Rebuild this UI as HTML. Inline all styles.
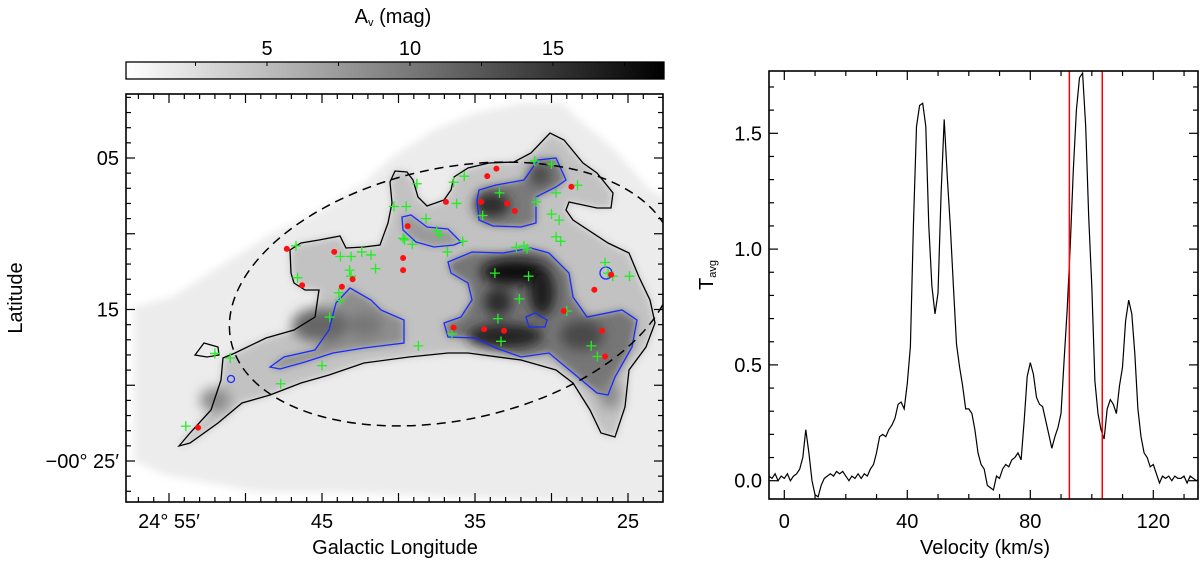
<!DOCTYPE html>
<html><head><meta charset="utf-8">
<style>
html,body{margin:0;padding:0;background:#fff;}
svg text{font-family:"Liberation Sans",Arial,sans-serif;fill:#000;}
</style></head>
<body>
<svg id="fig" width="1200" height="564" viewBox="0 0 1200 564" xmlns="http://www.w3.org/2000/svg">
<defs>
  <linearGradient id="cbgrad" x1="0" x2="1" y1="0" y2="0">
    <stop offset="0" stop-color="#ffffff"/><stop offset="1" stop-color="#000000"/>
  </linearGradient>
  <clipPath id="mapclip"><rect x="126" y="94" width="537" height="408"/></clipPath>
  <clipPath id="specclip"><rect x="769" y="71" width="429" height="428"/></clipPath>
  <filter id="b4" x="-20%" y="-20%" width="140%" height="140%"><feGaussianBlur stdDeviation="4"/></filter>
  <filter id="b7" x="-30%" y="-30%" width="160%" height="160%"><feGaussianBlur stdDeviation="6"/></filter>
</defs>

<g>
  <text x="393" y="23" font-size="20" text-anchor="middle">A<tspan font-size="11" dy="3">v</tspan><tspan dy="-3"> (mag)</tspan></text>
  <rect x="126" y="62" width="538" height="17" fill="url(#cbgrad)" stroke="#000" stroke-width="1.3"/>
  <g id="cbticks"></g>
</g>

<g>
  <g clip-path="url(#mapclip)">
    <polygon fill="#ececec" filter="url(#b4)" points="134,307 172,297 225,263 273,233 322,210 364,183 392,157 434,130 475,113 521,103 562,103 583,123 615,150 650,190 670,200 670,505 329,492 259,492 165,475 134,460"/>
    <path fill="#c2c2c2" filter="url(#b4)" d="M179,446 L190,433 211,410 221,380 223,358 235,353 266,338 294,330 315,317 319,290 305,290 294,283 291,273 290,250 301,243 319,240 340,236 346,248 364,247 380,245 388,223 392,203 390,182 395,171 407,172 413,180 418,197 427,206 444,200 451,190 454,177 468,168 489,163 514,162 531,153 550,133 564,140 583,163 597,173 613,193 611,208 597,208 569,202 566,210 573,220 608,243 629,253 639,277 650,300 655,323 646,347 629,370 625,407 615,437 601,433 590,410 573,383 556,370 521,360 468,353 448,353 409,357 364,363 329,375 301,383 270,395 242,403 218,423 190,443 Z"/>
    <path fill="#8e8e8e" filter="url(#b4)" d="M270,367 L284,357 315,350 329,330 336,303 350,288 371,300 381,310 404,320 404,343 364,348 333,353 305,362 280,369 Z"/>
    <path fill="#7a7a7a" filter="url(#b4)" d="M479,190 L496,185 524,180 538,160 556,158 566,180 556,187 536,197 536,223 521,227 493,226 479,220 477,200 Z"/>
    <path fill="#9a9a9a" filter="url(#b4)" d="M402,217 L411,215 427,227 448,229 461,242 454,245 434,247 416,242 403,230 Z"/>
    <path fill="#767676" filter="url(#b4)" d="M448,262 L472,252 503,253 531,248 549,253 569,273 573,297 587,317 622,310 637,320 632,347 615,377 608,395 597,393 573,373 549,353 521,357 496,348 475,338 448,337 444,323 461,317 472,300 468,283 451,273 Z"/>
    <g filter="url(#b7)">
      <ellipse cx="515" cy="272" rx="34" ry="13" fill="#080808"/>
      <ellipse cx="542" cy="292" rx="13" ry="24" fill="#1a1a1a"/>
      <ellipse cx="498" cy="302" rx="14" ry="14" fill="#2a2a2a"/>
      <ellipse cx="505" cy="336" rx="38" ry="12" fill="#222"/>
      <ellipse cx="492" cy="205" rx="18" ry="12" fill="#2a2a2a"/>
      <ellipse cx="540" cy="175" rx="11" ry="11" fill="#4a4a4a"/>
      <ellipse cx="582" cy="335" rx="22" ry="15" fill="#4a4a4a"/>
      <ellipse cx="320" cy="325" rx="28" ry="17" fill="#666"/>
      <ellipse cx="365" cy="325" rx="17" ry="13" fill="#777"/>
      <ellipse cx="215" cy="400" rx="15" ry="12" fill="#8a8a8a"/>
      <ellipse cx="610" cy="395" rx="10" ry="14" fill="#8a8a8a"/>
    </g>
    <path fill="none" stroke="#000" stroke-width="1.3" d="M179,446 L190,433 211,410 221,380 223,358 235,353 266,338 294,330 315,317 319,290 305,290 294,283 291,273 290,250 301,243 319,240 340,236 346,248 364,247 380,245 388,223 392,203 390,182 395,171 407,172 413,180 418,197 427,206 444,200 451,190 454,177 468,168 489,163 514,162 531,153 550,133 564,140 583,163 597,173 613,193 611,208 597,208 569,202 566,210 573,220 608,243 629,253 639,277 650,300 655,323 646,347 629,370 625,407 615,437 601,433 590,410 573,383 556,370 521,360 468,353 448,353 409,357 364,363 329,375 301,383 270,395 242,403 218,423 190,443 Z"/>
    <path fill="none" stroke="#000" stroke-width="1.3" d="M195,355 L204,343 218,347 219,355 207,357 Z"/>
    <g fill="none" stroke="#1a2bff" stroke-width="1.3">
      <path d="M270,367 L284,357 315,350 329,330 336,303 350,288 371,300 381,310 404,320 404,343 364,348 333,353 305,362 280,369 Z"/>
      <circle cx="231" cy="379" r="3.5"/>
      <path d="M402,217 L411,215 427,227 448,229 461,242 454,245 434,247 416,242 403,230 Z"/>
      <path d="M479,190 L496,185 524,180 538,160 556,158 566,180 556,187 536,197 536,223 521,227 493,226 479,220 477,200 Z"/>
      <path d="M448,262 L472,252 503,253 531,248 549,253 569,273 573,297 587,317 622,310 637,320 632,347 615,377 608,395 597,393 573,373 549,353 521,357 496,348 475,338 448,337 444,323 461,317 472,300 468,283 451,273 Z"/>
      <path d="M526,317 L535,313 547,320 545,327 529,327 Z"/>
      <circle cx="606" cy="273" r="6"/>
    </g>
    <ellipse cx="452" cy="294" rx="226" ry="126" transform="rotate(-12 452 294)" fill="none" stroke="#000" stroke-width="1.5" stroke-dasharray="9,6"/>
    <g id="crosses"></g>
    <g id="dots"></g>
  </g>
  <rect x="126" y="94" width="537" height="408" fill="none" stroke="#000" stroke-width="1.6"/>
  <g id="mapticks"></g>
  <text x="395" y="554" font-size="20" text-anchor="middle">Galactic Longitude</text>
  <text transform="translate(22,298) rotate(-90)" font-size="20" text-anchor="middle">Latitude</text>
</g>

<g>
  <g clip-path="url(#specclip)">
    <path id="specline" fill="none" stroke="#000" stroke-width="1.2"/>
    <g id="redlines"></g>
  </g>
  <rect x="769" y="71" width="429" height="428" fill="none" stroke="#000" stroke-width="1.6"/>
  <g id="specticks"></g>
  <text x="985" y="554" font-size="20" text-anchor="middle">Velocity (km/s)</text>
  <text transform="translate(713,275) rotate(-90)" font-size="20" text-anchor="middle">T<tspan font-size="11" dy="3">avg</tspan></text>
</g>
</svg>

<script>
const specStart = -5;
const specValues = [0.02,0.01,0.03,0.00,0.02,0.01,0.03,0.00,0.02,0.03,0.05,
0.10,0.22,0.12,0.00,-0.06,-0.07,-0.02,0.01,0.02,0.03,0.02,0.04,0.03,0.04,0.02,0.00,0.02,0.01,0.03,0.01,0.03,0.02,
0.05,0.07,0.12,0.19,0.20,0.19,0.22,0.24,0.27,0.33,0.34,0.31,0.42,0.58,1.10,1.53,1.62,1.63,1.53,1.10,0.84,0.72,
0.81,1.24,1.56,1.31,1.10,0.84,0.59,0.49,0.41,0.31,0.31,0.29,0.22,0.12,0.07,0.05,-0.02,-0.03,-0.04,0.02,0.01,
0.05,0.07,0.06,0.09,0.10,0.12,0.09,0.26,0.45,0.51,0.46,0.36,0.33,0.32,0.26,0.20,0.14,0.19,0.23,0.29,0.52,0.74,
1.02,1.34,1.60,1.74,1.76,1.53,1.14,0.84,0.43,0.29,0.22,0.18,0.31,0.35,0.33,0.29,0.41,0.49,0.69,0.78,0.72,0.55,
0.31,0.19,0.12,0.10,0.06,0.07,0.03,-0.01,
0.02,0.01,0.02,0.00,0.02,0.01,0.01,0.02,-0.01,0.02,0.01,0.00,0.01];
const velocityMarkers = [92.7, 103.4];
const specXTicks = [0, 40, 80, 120];
const specXTickLabels = ["0", "40", "80", "120"];
const specYTicks = [0, 0.5, 1.0, 1.5];
const specYTickLabels = ["0.0", "0.5", "1.0", "1.5"];

const crossLon = [31.1,30.0,35.7,36.4,38.8,28.3,33.4,29.7,36.2,31.0,40.3,39.5,34.5,30.0,29.5,38.2,37.5,37.3,39.7,39.6,39.1,29.7,29.4,35.8,46.7,36.8,32.3,31.8,31.6,43.8,43.1,42.4,41.8,41.5,43.2,43.1,46.6,33.7,31.5,26.5,26.3,24.9,26.0,43.9,43.8,32.1,44.5,33.5,36.5,33.3,38.7,27.4,27.0,45.0,51.0,52.0,47.7,53.9,29.0];
const crossLat = [5.2,5.4,6.2,6.6,6.7,6.8,7.3,7.3,8.0,7.9,8.2,8.2,8.8,8.7,9.1,9.0,9.8,10.1,10.3,10.4,10.7,10.2,10.5,10.5,10.8,11.2,10.9,10.8,11.0,11.5,11.5,11.2,11.4,12.3,12.4,12.8,12.9,12.6,12.8,11.9,12.6,12.8,12.8,13.9,14.4,14.3,15.5,15.6,16.6,17.1,17.4,17.4,18.1,18.7,18.2,17.9,19.9,22.7,15.1];
const dotLon = [47.3,44.2,46.3,43.0,43.7,39.4,39.7,39.7,36.9,34.2,33.6,34.6,32.9,32.4,28.7,26.1,27.2,29.2,36.4,34.4,33.1,26.7,26.5,53.1];
const dotLat = [11.0,11.2,13.4,13.0,13.5,9.5,11.6,12.4,7.9,6.2,5.7,7.9,8.0,8.5,6.9,12.7,13.7,15.1,16.2,16.3,16.4,16.4,18.1,22.8];
const lonTicks = [55, 45, 35, 25];
const lonTickLabels = ["24° 55′", "45", "35", "25"];
const latTicks = [5, 15, 25];
const latTickLabels = ["05", "15", "−00° 25′"];
const cbTicks = [5, 10, 15];
const cbTickLabels = ["5", "10", "15"];

const NS = "http://www.w3.org/2000/svg";
const sx = v => 784.3 + (v - 0) * 3.075;
const sy = t => 480.7 - t * 231.6;
const mx = l => 322 + (45 - l) * 15.3;
const my = b => 158 + (b - 5) * 15.15;
const cx = a => 267 + (a - 5) * 28.6;

function mk(tag, attrs, parent) {
  const e = document.createElementNS(NS, tag);
  for (const k in attrs) e.setAttribute(k, attrs[k]);
  parent.appendChild(e);
  return e;
}

let d = "";
specValues.forEach((t, i) => { d += (i ? "L" : "M") + sx(specStart + i).toFixed(1) + "," + sy(t).toFixed(1); });
document.getElementById("specline").setAttribute("d", d);

const rl = document.getElementById("redlines");
velocityMarkers.forEach(v => {
  const l = mk("line", {x1: sx(v), x2: sx(v), y1: 71, y2: 499, stroke: "#ff0000", "stroke-width": 1.5}, rl);
  
  
});

const st = document.getElementById("specticks");
for (let v = 0; v <= 130; v += 10) {
  const major = v % 40 === 0;
  const len = major ? 9 : 5;
  mk("line", {x1: sx(v), x2: sx(v), y1: 499, y2: 499 - len, stroke: "#000", "stroke-width": 1.2}, st);
  mk("line", {x1: sx(v), x2: sx(v), y1: 71, y2: 71 + len, stroke: "#000", "stroke-width": 1.2}, st);
}
for (let k = 0; k <= 17; k++) {
  const t = k / 10;
  const major = k % 5 === 0;
  const len = major ? 9 : 5;
  mk("line", {x1: 769, x2: 769 + len, y1: sy(t), y2: sy(t), stroke: "#000", "stroke-width": 1.2}, st);
  mk("line", {x1: 1198, x2: 1198 - len, y1: sy(t), y2: sy(t), stroke: "#000", "stroke-width": 1.2}, st);
}
specXTicks.forEach((v, i) => {
  const t = mk("text", {x: sx(v), y: 528, "font-size": 20, "text-anchor": "middle"}, st);
  t.textContent = specXTickLabels[i];
  
  
});
specYTicks.forEach((v, i) => {
  const t = mk("text", {x: 762, y: sy(v) + 7, "font-size": 20, "text-anchor": "end"}, st);
  t.textContent = specYTickLabels[i];
  
  
});

const cg = document.getElementById("crosses");
crossLon.forEach((l, i) => {
  const x = mx(l), y = my(crossLat[i]);
  const p = mk("path", {d: `M${x-5},${y}H${x+5}M${x},${y-5}V${y+5}`, stroke: "#22ee22", "stroke-width": 1.3, fill: "none"}, cg);
  
  
});
const dg = document.getElementById("dots");
dotLon.forEach((l, i) => {
  const c = mk("circle", {cx: mx(l), cy: my(dotLat[i]), r: 3, fill: "#ff1010"}, dg);
  
  
});

const mt = document.getElementById("mapticks");
for (let l = 24; l <= 59; l++) {
  const x = mx(l); if (x < 126 || x > 663) continue;
  const len = l % 5 === 0 ? 9 : 5;
  mk("line", {x1: x, x2: x, y1: 502, y2: 502 - len, stroke: "#000", "stroke-width": 1.2}, mt);
  mk("line", {x1: x, x2: x, y1: 94, y2: 94 + len, stroke: "#000", "stroke-width": 1.2}, mt);
}
for (let b = 0; b <= 29; b++) {
  const y = my(b); if (y < 94 || y > 502) continue;
  const len = b % 5 === 0 ? 9 : 5;
  mk("line", {x1: 126, x2: 126 + len, y1: y, y2: y, stroke: "#000", "stroke-width": 1.2}, mt);
  mk("line", {x1: 663, x2: 663 - len, y1: y, y2: y, stroke: "#000", "stroke-width": 1.2}, mt);
}
lonTicks.forEach((l, i) => {
  const t = mk("text", {x: mx(l), y: 528, "font-size": 20, "text-anchor": "middle"}, mt);
  t.textContent = lonTickLabels[i];
  
  
});
latTicks.forEach((b, i) => {
  const t = mk("text", {x: 119, y: my(b) + 7, "font-size": 20, "text-anchor": "end"}, mt);
  t.textContent = latTickLabels[i];
  
  
});

const cbt = document.getElementById("cbticks");
for (let a = 2.5; a < 18.9; a += 2.5) {
  mk("line", {x1: cx(a), x2: cx(a), y1: 62, y2: 66, stroke: "#000", "stroke-width": 1}, cbt);
}
cbTicks.forEach((a, i) => {
  const t = mk("text", {x: cx(a), y: 55, "font-size": 20, "text-anchor": "middle"}, cbt);
  t.textContent = cbTickLabels[i];
  
  
});
</script>
</body></html>
